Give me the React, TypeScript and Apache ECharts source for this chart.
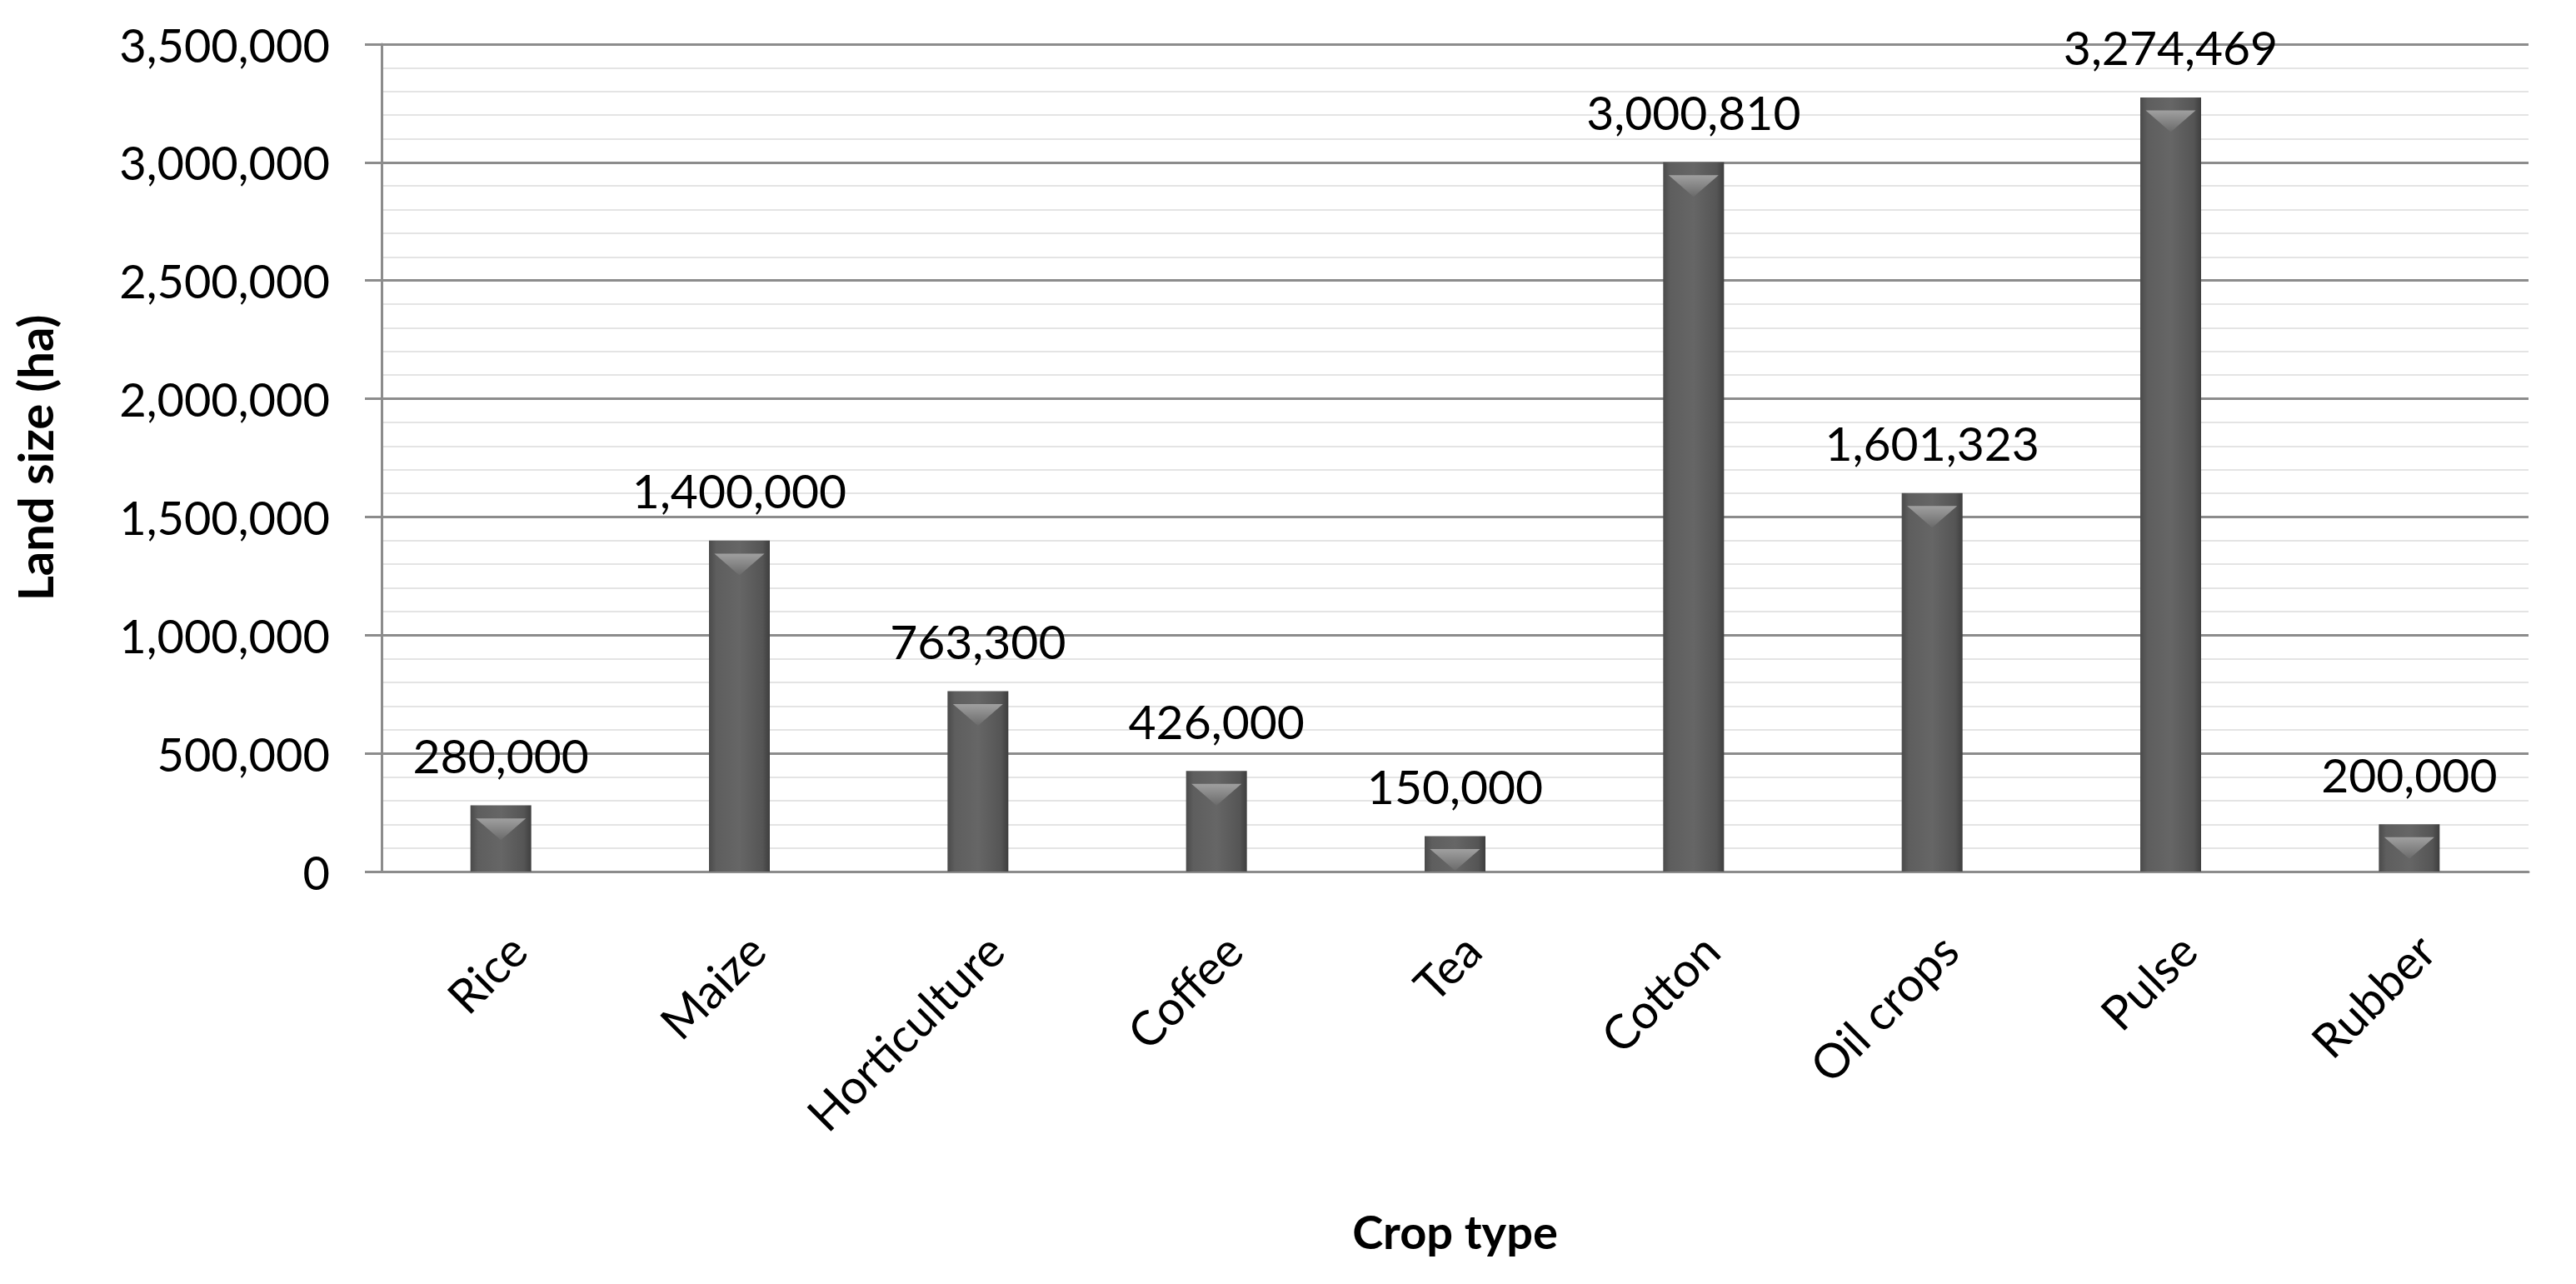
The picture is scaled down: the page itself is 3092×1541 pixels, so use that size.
import React, { useEffect, useRef } from "react";
import * as echarts from "echarts";

const categories = ["Rice", "Maize", "Horticulture", "Coffee", "Tea", "Cotton", "Oil crops", "Pulse", "Rubber"];
const landSize = [280000, 1400000, 763300, 426000, 150000, 3000810, 1601323, 3274469, 200000];
const yMin = 0;
const yMax = 3500000;
const yInterval = 500000;

const FONT = "Lato, 'Open Sans', sans-serif";
const fmt = (v: number) => Math.round(v).toLocaleString("en-US");

export default function App() {
  const ref = useRef<HTMLDivElement>(null);
  useEffect(() => {
    document.body.style.margin = "0";
    const chart = echarts.init(ref.current!, null, { renderer: "svg" });
    chart.setOption({
      animation: false,
      backgroundColor: "#ffffff",
      textStyle: { fontFamily: FONT },
      grid: { left: 458, right: 57, top: 53, bottom: 495 },
      xAxis: {
        type: "category",
        data: categories,
        name: "Crop type",
        nameLocation: "middle",
        nameGap: 403,
        nameTextStyle: { fontSize: 56, fontWeight: "bold", color: "#000", fontFamily: FONT },
        axisLine: { show: true, lineStyle: { color: "#8c8c8c", width: 3 } },
        axisTick: { show: false },
        axisLabel: { rotate: 45, fontSize: 57, color: "#000", margin: 64, verticalAlign: "top", fontFamily: FONT },
      },
      yAxis: {
        type: "value",
        min: yMin,
        max: yMax,
        interval: yInterval,
        name: "Land size (ha)",
        nameLocation: "middle",
        nameGap: 388,
        nameTextStyle: { fontSize: 58, fontWeight: "bold", color: "#000", fontFamily: FONT },
        axisLine: { show: true, lineStyle: { color: "#8c8c8c", width: 3 } },
        axisTick: { show: true, length: 20, lineStyle: { color: "#8c8c8c", width: 3 } },
        axisLabel: { fontSize: 56, color: "#000", margin: 62, fontFamily: FONT, formatter: (v: number) => fmt(v) },
        splitLine: { show: true, lineStyle: { color: "#8c8c8c", width: 3 } },
        minorTick: { show: false, splitNumber: 5 },
        minorSplitLine: { show: true, lineStyle: { color: "#e4e4e4", width: 2 } },
      },
      series: [
        {
          type: "bar",
          data: landSize,
          barWidth: 73,
          itemStyle: {
            color: new echarts.graphic.LinearGradient(0, 0, 1, 0, [
              { offset: 0, color: "#4a4a4a" },
              { offset: 0.12, color: "#5e5e5e" },
              { offset: 0.5, color: "#666666" },
              { offset: 0.88, color: "#555555" },
              { offset: 1, color: "#3e3e3e" },
            ]),
          },
          label: {
            show: true,
            position: "top",
            distance: 32,
            fontSize: 57,
            color: "#000",
            fontFamily: FONT,
            formatter: (p: any) => fmt(p.value),
          },
          z: 2,
        },
        {
          type: "pictorialBar",
          data: landSize,
          symbol: "triangle",
          symbolRotate: 180,
          symbolSize: [60, 26],
          symbolPosition: "end",
          symbolOffset: [0, "60%"],
          itemStyle: {
            color: new echarts.graphic.LinearGradient(0, 0, 0, 1, [
              { offset: 0, color: "#6a6a6a" },
              { offset: 1, color: "#a0a0a0" },
            ]),
          },
          silent: true,
          z: 3,
        },
      ],
    });
    return () => chart.dispose();
  }, []);
  return <div ref={ref} style={{ width: 3092, height: 1541 }} />;
}
